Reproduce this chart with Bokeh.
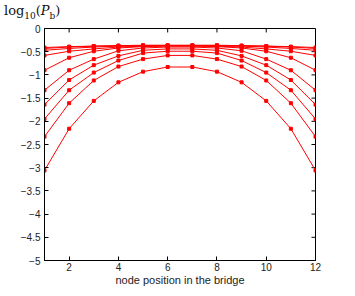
from bokeh.plotting import figure
from bokeh.models import Range1d, FixedTicker, Div
from bokeh.layouts import column
from bokeh.embed import file_html
from bokeh.resources import INLINE

nodes = [1, 2, 3, 4, 5, 6, 7, 8, 9, 10, 11, 12]
curve_a = [-3.06, -2.16, -1.56, -1.16, -0.93, -0.83, -0.83, -0.93, -1.16, -1.56, -2.16, -3.06]
curve_b = [-2.33, -1.61, -1.12, -0.82, -0.66, -0.58, -0.58, -0.66, -0.82, -1.12, -1.61, -2.33]
curve_c = [-1.95, -1.33, -0.95, -0.69, -0.53, -0.49, -0.49, -0.53, -0.69, -0.95, -1.33, -1.95]
curve_d = [-1.64, -1.11, -0.79, -0.59, -0.47, -0.44, -0.44, -0.47, -0.59, -0.79, -1.11, -1.64]
curve_e = [-1.33, -0.90, -0.66, -0.48, -0.42, -0.40, -0.40, -0.42, -0.48, -0.66, -0.90, -1.33]
curve_f = [-0.90, -0.63, -0.49, -0.42, -0.39, -0.38, -0.38, -0.39, -0.42, -0.49, -0.63, -0.90]
curve_g = [-0.58, -0.49, -0.44, -0.40, -0.38, -0.37, -0.37, -0.38, -0.40, -0.44, -0.49, -0.58]
curve_h = [-0.47, -0.43, -0.40, -0.38, -0.37, -0.37, -0.37, -0.37, -0.38, -0.40, -0.43, -0.47]
curve_i = [-0.43, -0.40, -0.38, -0.37, -0.37, -0.37, -0.37, -0.37, -0.37, -0.38, -0.40, -0.43]
curve_j = [-0.41, -0.39, -0.38, -0.37, -0.36, -0.36, -0.36, -0.36, -0.37, -0.38, -0.39, -0.41]
curves = [curve_a, curve_b, curve_c, curve_d, curve_e, curve_f, curve_g, curve_h, curve_i, curve_j]

x_ticks = [2, 4, 6, 8, 10, 12]
y_ticks = [0, -0.5, -1, -1.5, -2, -2.5, -3, -3.5, -4, -4.5, -5]
y_tick_labels = ["0", "\u22120.5", "\u22121", "\u22121.5", "\u22122", "\u22122.5",
                 "\u22123", "\u22123.5", "\u22124", "\u22124.5", "\u22125"]
x_label = "node position in the bridge"
y_label_html = "log<sub style='font-size:9px'>10</sub>(<i>P</i><sub style='font-size:9px'>b</sub>)"

FONT = "Liberation Sans"
SERIF = "DejaVu Serif"
red = "#ff0000"

X0, X1 = 1, 12
Y0, Y1 = -5, 0
W = 347
DIV_H = 20
DIV_TOP = 2
H = 288 - DIV_H - DIV_TOP
BL, BR, BT, BB = 44, 32, 6, 26
frame_w = W - BL - BR
frame_h = H - BT - BB

p = figure(width=W, height=H, output_backend="svg", toolbar_location=None,
           x_range=Range1d(X0, X1), y_range=Range1d(Y0, Y1),
           min_border_left=BL, min_border_right=BR, min_border_top=BT, min_border_bottom=BB)
p.xgrid.visible = False
p.ygrid.visible = False
p.outline_line_color = "black"
p.outline_line_width = 1
p.background_fill_color = "white"
p.border_fill_color = "white"

for ax in (p.xaxis[0], p.yaxis[0]):
    ax.major_tick_in = 4
    ax.major_tick_out = 0
    ax.minor_tick_in = 0
    ax.minor_tick_out = 0
    ax.axis_line_color = "black"
    ax.major_label_text_font = FONT
    ax.major_label_text_font_size = "10px"
    ax.major_label_text_color = "#222222"

p.xaxis[0].ticker = FixedTicker(ticks=x_ticks)
p.xaxis[0].major_label_standoff = 2
p.xaxis[0].axis_label = x_label
p.xaxis[0].axis_label_text_font = FONT
p.xaxis[0].axis_label_text_font_size = "11px"
p.xaxis[0].axis_label_text_font_style = "normal"
p.xaxis[0].axis_label_text_color = "#222222"
p.xaxis[0].axis_label_standoff = 0

p.yaxis[0].ticker = FixedTicker(ticks=y_ticks)
p.yaxis[0].major_label_overrides = {t: l for t, l in zip(y_ticks, y_tick_labels)}
p.yaxis[0].major_label_standoff = 4

# inward ticks on the top and right edges of the box
tick_dy = 4 * (Y1 - Y0) / frame_h
tick_dx = 4 * (X1 - X0) / frame_w
p.segment(x0=x_ticks, y0=[Y1] * len(x_ticks), x1=x_ticks, y1=[Y1 - tick_dy] * len(x_ticks),
          line_color="black", line_width=1)
p.segment(x0=[X1] * len(y_ticks), y0=y_ticks, x1=[X1 - tick_dx] * len(y_ticks), y1=y_ticks,
          line_color="black", line_width=1)

for c in curves:
    p.line(nodes, c, line_color=red, line_width=1)
    p.scatter(nodes, c, marker="square", size=3, fill_color=red, line_color=red)

title = Div(text=y_label_html, width=120, height=DIV_H, margin=(DIV_TOP, 0, 0, 4),
            styles={"font-family": SERIF, "font-size": "13px", "color": "#111111",
                    "line-height": "18px"})

layout = column(title, p, spacing=0)
open("out.html", "w").write(file_html(layout, INLINE))
